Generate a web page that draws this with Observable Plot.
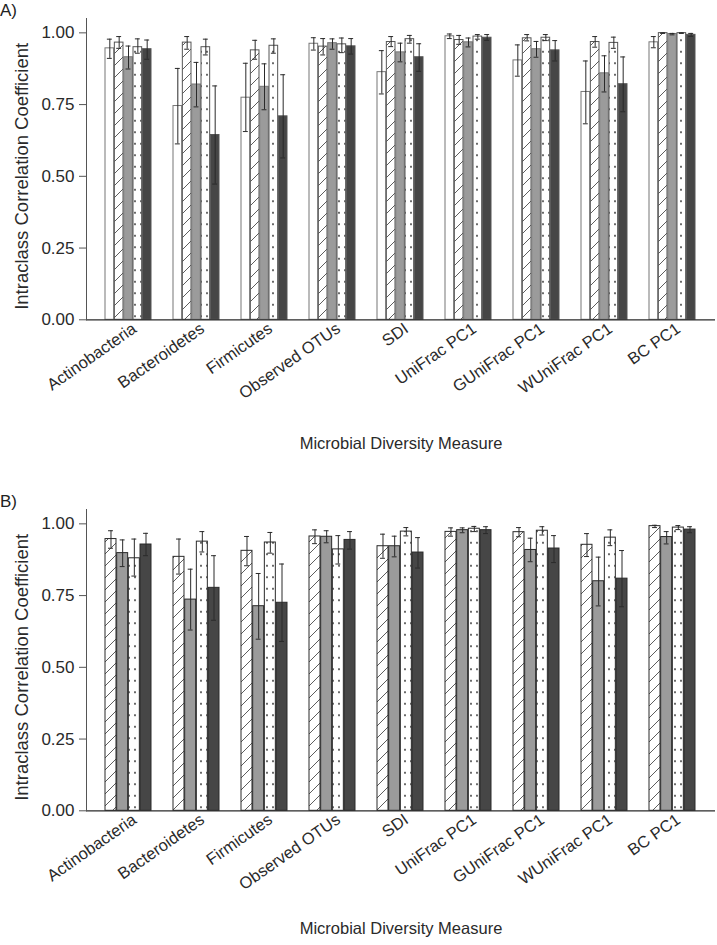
<!DOCTYPE html>
<html><head><meta charset="utf-8">
<script src="https://cdn.jsdelivr.net/npm/d3@7"></script>
<script src="https://cdn.jsdelivr.net/npm/@observablehq/plot@0.6"></script>
<style>
body{margin:0;background:#fff;font-family:"Liberation Sans",Arial,sans-serif;}
.panel{position:relative;width:717px;}
.tag{position:absolute;left:0px;top:1px;font-size:17px;color:#222;font-family:"Liberation Sans",Arial,sans-serif;}
</style></head><body>
<svg width="0" height="0" style="position:absolute">
<defs>
<pattern id="hatch" patternUnits="userSpaceOnUse" width="12" height="12">
<path d="M-1,1 L1,-1 M0,12 L12,0 M11,13 L13,11" stroke="#333" stroke-width="0.8"/>
</pattern>
<pattern id="dots" patternUnits="userSpaceOnUse" width="6" height="11.5">
<circle cx="3" cy="5.75" r="0.9" fill="#222"/>
</pattern>
</defs></svg>
<div id="A" class="panel"><span class="tag">A)</span></div>
<div id="B" class="panel"><span class="tag">B)</span></div>
<script>
const categories = ["Actinobacteria","Bacteroidetes","Firmicutes","Observed OTUs","SDI","UniFrac PC1","GUniFrac PC1","WUniFrac PC1","BC PC1"];
const yTicks = [0, 0.25, 0.5, 0.75, 1.0];
const xTitle = "Microbial Diversity Measure";
const yTitle = "Intraclass Correlation Coefficient";

// Panel A
const aOpen    = [0.946,0.745,0.774,0.962,0.863,0.988,0.904,0.794,0.967];
const aOpenLo  = [0.911,0.613,0.656,0.940,0.787,0.980,0.849,0.683,0.948];
const aOpenHi  = [0.978,0.876,0.894,0.983,0.938,0.996,0.958,0.902,0.987];
const aHatch   = [0.966,0.966,0.939,0.952,0.968,0.975,0.981,0.968,0.999];
const aHatchLo = [0.946,0.943,0.908,0.923,0.952,0.960,0.972,0.950,0.998];
const aHatchHi = [0.987,0.987,0.974,0.980,0.987,0.991,0.994,0.987,1.000];
const aGray    = [0.915,0.820,0.812,0.964,0.932,0.967,0.943,0.859,0.996];
const aGrayLo  = [0.874,0.742,0.732,0.943,0.899,0.951,0.915,0.794,0.993];
const aGrayHi  = [0.954,0.897,0.892,0.979,0.964,0.982,0.970,0.920,0.998];
const aDot     = [0.950,0.950,0.955,0.960,0.978,0.987,0.983,0.965,0.999];
const aDotLo   = [0.929,0.923,0.929,0.931,0.964,0.978,0.973,0.946,0.998];
const aDotHi   = [0.979,0.978,0.979,0.982,0.991,0.994,0.994,0.985,1.000];
const aDark    = [0.943,0.644,0.709,0.953,0.915,0.983,0.939,0.821,0.993];
const aDarkLo  = [0.908,0.473,0.564,0.926,0.866,0.974,0.902,0.725,0.988];
const aDarkHi  = [0.975,0.815,0.854,0.980,0.962,0.994,0.973,0.916,0.998];

// Panel B
const bHatch   = [0.947,0.885,0.906,0.956,0.922,0.972,0.971,0.927,0.992];
const bHatchLo = [0.915,0.825,0.854,0.931,0.880,0.957,0.955,0.886,0.987];
const bHatchHi = [0.976,0.947,0.956,0.979,0.964,0.986,0.987,0.966,0.995];
const bGray    = [0.898,0.736,0.713,0.955,0.922,0.978,0.909,0.800,0.954];
const bGrayLo  = [0.851,0.630,0.598,0.934,0.885,0.969,0.868,0.714,0.930];
const bGrayHi  = [0.944,0.842,0.827,0.976,0.957,0.986,0.950,0.884,0.973];
const bDot     = [0.880,0.938,0.935,0.911,0.973,0.983,0.976,0.952,0.987];
const bDotLo   = [0.818,0.902,0.898,0.860,0.958,0.973,0.961,0.924,0.980];
const bDotHi   = [0.947,0.973,0.970,0.959,0.987,0.991,0.990,0.979,0.994];
const bDark    = [0.928,0.777,0.725,0.944,0.900,0.978,0.914,0.809,0.980];
const bDarkLo  = [0.889,0.664,0.590,0.912,0.846,0.966,0.865,0.711,0.969];
const bDarkHi  = [0.967,0.889,0.860,0.973,0.952,0.990,0.959,0.907,0.990];

const W = 717, ML = 86, MR = 2, PI = 0.318, PO = 0.2535;

function panel(el, series, height, edge, titleGap) {
  const k = series.length;
  const band = d3.scaleBand().domain(categories).range([ML, W - MR]).paddingInner(PI).paddingOuter(PO);
  const bw = band.bandwidth();
  const sw = bw / k;
  const bars = [], errs = [];
  series.forEach((s, i) => {
    const rows = categories.map((c, j) => ({category: c, value: s.v[j], lo: s.lo[j], hi: s.hi[j]}));
    bars.push(Plot.barY(rows, {x: "category", y: "value", fill: s.fill, stroke: s.stroke || edge, strokeWidth: 1,
      insetLeft: i * sw, insetRight: (k - 1 - i) * sw}));
    const c = (i + 0.5) * sw;
    errs.push(Plot.ruleX(rows, {x: "category", y1: "lo", y2: "hi", dx: c - bw / 2, stroke: "#2a2a2a", strokeWidth: 1}));
    errs.push(Plot.tickY(rows, {x: "category", y: "hi", insetLeft: c - 2.8, insetRight: bw - c - 2.8, stroke: "#2a2a2a", strokeWidth: 1}));
    errs.push(Plot.tickY(rows, {x: "category", y: "lo", insetLeft: c - 2.8, insetRight: bw - c - 2.8, stroke: "#2a2a2a", strokeWidth: 1}));
  });
  const chart = Plot.plot({
    width: W, height,
    marginLeft: ML, marginRight: MR, marginTop: 18, marginBottom: height - 18 - 301.3,
    style: {fontFamily: "Liberation Sans, Arial, sans-serif", fontSize: "16px", color: "#2a2a2a", background: "white", overflow: "visible"},
    x: {domain: categories, paddingInner: PI, paddingOuter: PO},
    y: {domain: [0, 1.05]},
    marks: [
      ...bars,
      ...errs,
      Plot.ruleY([0], {stroke: "#2a2a2a", strokeWidth: 1.2}),
      Plot.frame({anchor: "left", stroke: "#555", strokeWidth: 1}),
      Plot.axisY({ticks: yTicks, tickFormat: ".2f", tickSize: 7, tickPadding: 5, label: null, stroke: "#555", fontSize: 17}),
      Plot.axisX({tickSize: 0, tickRotate: -35, tickPadding: 7, dx: 6, label: null, fontSize: 16.5}),
      Plot.text([xTitle], {frameAnchor: "bottom", text: d => d, dy: titleGap, lineAnchor: "middle", textAnchor: "middle", fontSize: 16.5, fill: "#2a2a2a"}),
      Plot.text([yTitle], {frameAnchor: "left", y: [d3.mean(yTicks)], text: d => d, rotate: -90, dx: -64, textAnchor: "middle", lineAnchor: "middle", fontSize: 18.5, fill: "#2a2a2a"})
    ]
  });
  document.getElementById(el).appendChild(chart);
}

panel("A", [
  {v: aOpen, lo: aOpenLo, hi: aOpenHi, fill: "white", stroke: "#777"},
  {v: aHatch, lo: aHatchLo, hi: aHatchHi, fill: "url(#hatch)"},
  {v: aGray, lo: aGrayLo, hi: aGrayHi, fill: "#9b9b9b", stroke: "#777"},
  {v: aDot, lo: aDotLo, hi: aDotHi, fill: "url(#dots)"},
  {v: aDark, lo: aDarkLo, hi: aDarkHi, fill: "#464646", stroke: "#555"}
], 491, "#555", 124);

panel("B", [
  {v: bHatch, lo: bHatchLo, hi: bHatchHi, fill: "url(#hatch)"},
  {v: bGray, lo: bGrayLo, hi: bGrayHi, fill: "#9b9b9b"},
  {v: bDot, lo: bDotLo, hi: bDotHi, fill: "url(#dots)"},
  {v: bDark, lo: bDarkLo, hi: bDarkHi, fill: "#464646"}
], 454, "#2a2a2a", 118);
</script>
</body></html>
